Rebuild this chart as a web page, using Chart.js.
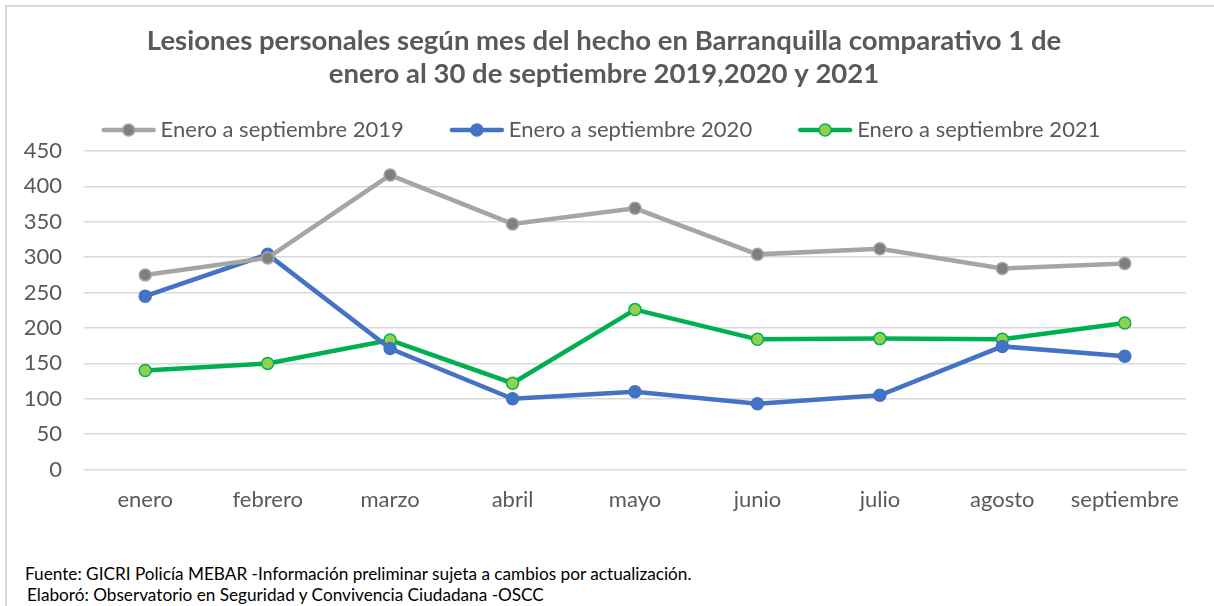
<!DOCTYPE html>
<html>
<head>
<meta charset="utf-8">
<script src="https://cdn.jsdelivr.net/npm/chart.js@4.4.1/dist/chart.umd.min.js"></script>
<style>
  html, body { margin: 0; padding: 0; background: #fff; }
  body { width: 1214px; height: 606px; position: relative; overflow: hidden; font-family: Lato, 'Open Sans', sans-serif; }
  .frame { position: absolute; left: 5px; top: 5px; width: 1220px; height: 610px; border-top: 2px solid #d9d9d9; border-left: 2px solid #d9d9d9; }
  .chart-box { position: absolute; left: 0; top: 0; width: 1214px; height: 540px; }
  .note { position: absolute; left: 25px; font-size: 17.2px; color: #000; white-space: nowrap; }
</style>
</head>
<body>
<div class="frame"></div>
<div class="chart-box"><canvas id="chart"></canvas></div>
<div class="note" style="top:563px">Fuente: GICRI Policía MEBAR -Información preliminar sujeta a cambios por actualización.</div>
<div class="note" style="top:584px;left:27px">Elaboró: Observatorio en Seguridad y Convivencia Ciudadana -OSCC</div>
<script>
// --- DATA ---
const MONTHS = ['enero', 'febrero', 'marzo', 'abril', 'mayo', 'junio', 'julio', 'agosto', 'septiembre'];
const SERIES_NAMES = ['Enero a septiembre 2019', 'Enero a septiembre 2020', 'Enero a septiembre 2021'];
const VALUES_2019 = [275, 299, 416, 347, 369, 304, 312, 284, 291];
const VALUES_2020 = [245, 304, 171, 100, 110, 93, 105, 174, 160];
const VALUES_2021 = [140, 150, 183, 122, 226, 184, 185, 184, 207];
const Y_TICKS = [0, 50, 100, 150, 200, 250, 300, 350, 400, 450];

const TITLE_LINES = [
    'Lesiones personales según mes del hecho en Barranquilla comparativo 1 de',
    'enero al 30 de septiembre 2019,2020 y 2021'
];

const TEXT_COLOR = '#595959';
const FONT = 'Lato';

// line + marker sample used as the legend symbol
function legendSymbol(line, fill, stroke) {
    const c = document.createElement('canvas');
    c.width = 58; c.height = 16;
    const g = c.getContext('2d');
    g.strokeStyle = line;
    g.lineWidth = 4.5;
    g.lineCap = 'round';
    g.beginPath(); g.moveTo(4, 8); g.lineTo(54, 8); g.stroke();
    g.fillStyle = fill;
    g.strokeStyle = stroke;
    g.lineWidth = 1.5;
    g.beginPath(); g.arc(29, 8, 6, 0, Math.PI * 2); g.fill(); g.stroke();
    return c;
}

const STYLES = [
    { line: '#a5a5a5', fill: '#7f7f7f', stroke: '#a5a5a5' },
    { line: '#4472c4', fill: '#4472c4', stroke: '#4472c4' },
    { line: '#00b050', fill: '#92d050', stroke: '#00b050' }
];

function makeDataset(label, data, st) {
    return {
        label: label,
        data: data,
        borderColor: st.line,
        borderWidth: 4.5,
        pointRadius: 6,
        pointBorderWidth: 1.5,
        pointBackgroundColor: st.fill,
        pointBorderColor: st.stroke,
        tension: 0,
        symbol: legendSymbol(st.line, st.fill, st.stroke)
    };
}

const ctx = document.getElementById('chart').getContext('2d');
new Chart(ctx, {
    type: 'line',
    data: {
        labels: MONTHS,
        datasets: [
            makeDataset(SERIES_NAMES[0], VALUES_2019, STYLES[0]),
            makeDataset(SERIES_NAMES[1], VALUES_2020, STYLES[1]),
            makeDataset(SERIES_NAMES[2], VALUES_2021, STYLES[2])
        ]
    },
    options: {
        responsive: true,
        maintainAspectRatio: false,
        animation: false,
        layout: { padding: { left: 22, right: 28, top: 0, bottom: 10 } },
        plugins: {
            title: {
                display: true,
                text: TITLE_LINES,
                color: TEXT_COLOR,
                font: { family: FONT, size: 27.5, weight: 'bold', lineHeight: 1.2 },
                padding: { top: 23, bottom: -24 }
            },
            legend: {
                position: 'top',
                labels: {
                    color: TEXT_COLOR,
                    font: { family: FONT, size: 22 },
                    usePointStyle: true,
                    pointStyleWidth: 42,
                    padding: 52,
                    generateLabels: chart => chart.data.datasets.map((ds, i) => ({
                        text: ds.label,
                        pointStyle: ds.symbol,
                        fontColor: TEXT_COLOR,
                        lineWidth: 0,
                        datasetIndex: i
                    }))
                }
            },
            tooltip: { enabled: false }
        },
        scales: {
            x: {
                offset: true,
                grid: { display: false, drawTicks: false },
                border: { display: false },
                ticks: { color: TEXT_COLOR, font: { family: FONT, size: 22 }, padding: 17, maxRotation: 0, autoSkip: false }
            },
            y: {
                min: 0,
                max: 450,
                afterBuildTicks: axis => { axis.ticks = Y_TICKS.map(v => ({ value: v })); },
                afterFit: axis => { axis.width = 62; axis.paddingTop = 151; },
                grid: { color: '#d9d9d9', lineWidth: 1.5, drawTicks: false },
                border: { display: false },
                ticks: { color: TEXT_COLOR, font: { family: FONT, size: 22 }, padding: 22 }
            }
        }
    }
});
</script>
</body>
</html>
